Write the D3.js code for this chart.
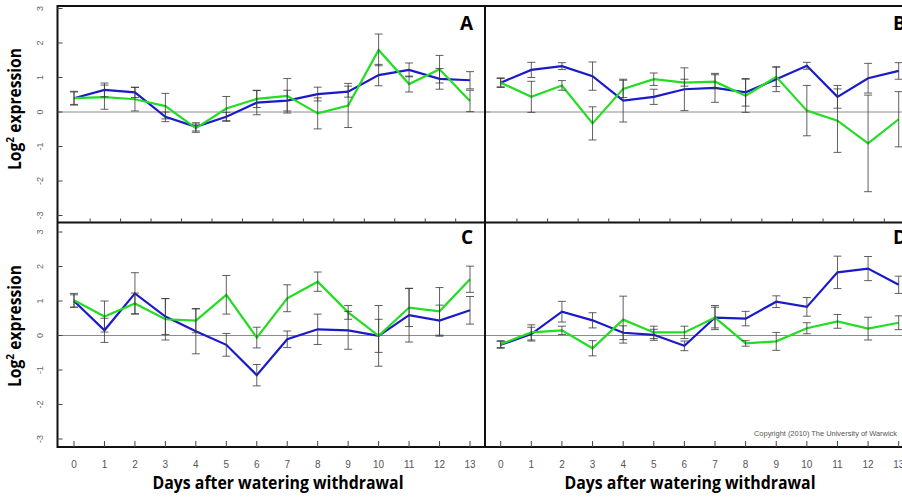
<!DOCTYPE html>
<html>
<head>
<meta charset="utf-8">
<script src="https://cdn.jsdelivr.net/npm/d3@7"></script>
<style>
  body { margin: 0; background: #fff; }
  svg { display: block; }
</style>
</head>
<body>
<div id="chart"></div>
<script>
// days after watering withdrawal
const days = [0, 1, 2, 3, 4, 5, 6, 7, 8, 9, 10, 11, 12, 13];
const yTicks = [-3, -2, -1, 0, 1, 2, 3];

// panel A
const aGreen    = [0.40, 0.43, 0.37, 0.17, -0.47, 0.10, 0.38, 0.47, -0.04, 0.19, 1.80, 0.81, 1.24, 0.32];
const aGreenErr = [0.18, 0.35, 0.34, 0.37, 0.12, 0.35, 0.25, 0.50, 0.45, 0.64, 0.46, 0.23, 0.40, 0.31];
const aBlue     = [0.40, 0.64, 0.57, -0.14, -0.43, -0.14, 0.27, 0.33, 0.52, 0.59, 1.07, 1.22, 0.96, 0.92];
const aBlueErr  = [0.20, 0.20, 0.15, 0.14, 0.12, 0.13, 0.35, 0.30, 0.20, 0.16, 0.31, 0.20, 0.30, 0.25];

// panel B
const bGreen    = [0.85, 0.44, 0.77, -0.33, 0.67, 0.95, 0.85, 0.88, 0.47, 1.02, 0.04, -0.25, -0.91, -0.21];
const bGreenErr = [0.14, 0.45, 0.14, 0.48, 0.25, 0.18, 0.10, 0.20, 0.48, 0.28, 0.73, 0.92, 1.40, 0.80];
const bBlue     = [0.85, 1.22, 1.33, 1.04, 0.33, 0.44, 0.66, 0.70, 0.57, 0.95, 1.34, 0.44, 0.98, 1.19];
const bBlueErr  = [0.12, 0.22, 0.10, 0.41, 0.62, 0.22, 0.62, 0.42, 0.40, 0.36, 0.10, 0.33, 0.43, 0.24];

// panel C
const cGreen    = [1.02, 0.55, 0.93, 0.47, 0.43, 1.18, -0.06, 1.08, 1.56, 0.67, -0.01, 0.81, 0.70, 1.63];
const cGreenErr = [0.20, 0.45, 0.30, 0.60, 0.35, 0.56, 0.30, 0.39, 0.28, 0.20, 0.88, 0.55, 0.69, 0.38];
const cBlue     = [1.00, 0.15, 1.22, 0.55, 0.12, -0.27, -1.15, -0.11, 0.18, 0.15, -0.01, 0.59, 0.43, 0.73];
const cBlueErr  = [0.18, 0.35, 0.60, 0.52, 0.65, 0.33, 0.31, 0.24, 0.44, 0.55, 0.48, 0.78, 0.45, 0.40];

// panel D
const dGreen    = [-0.25, 0.09, 0.15, -0.37, 0.46, 0.09, 0.09, 0.52, -0.23, -0.17, 0.21, 0.41, 0.20, 0.37];
const dGreenErr = [0.10, 0.22, 0.12, 0.22, 0.68, 0.18, 0.18, 0.30, 0.08, 0.26, 0.16, 0.20, 0.33, 0.20];
const dBlue     = [-0.27, 0.04, 0.69, 0.44, 0.08, 0.02, -0.30, 0.52, 0.49, 0.98, 0.83, 1.83, 1.94, 1.47];
const dBlueErr  = [0.10, 0.20, 0.30, 0.22, 0.20, 0.16, 0.14, 0.35, 0.21, 0.17, 0.27, 0.47, 0.35, 0.25];

const greenCol = "rgb(34,221,34)";
const blueCol = "rgb(26,26,204)";
const barCol = "#3a3a3a";

let width = 902, height = 498;
let leftX = 57.5, midX = 485, rightX = 914;
let topY = 6, midY = 222.5, botY = 447;

let svg = d3.select("#chart").append("svg")
    .attr("width", width)
    .attr("height", height)
    .style("font-family", "'Open Sans', 'DejaVu Sans', sans-serif");

svg.append("rect").attr("width", width).attr("height", height).attr("fill", "#fff");

// y scales: one for each row
let yTop = d3.scaleLinear().domain([-3, 3]).range([215.5, 8.5]);
let yBot = d3.scaleLinear().domain([-3, 3]).range([439, 232]);
// x scales: one for each column
let xLeft = d3.scaleLinear().domain([0, 13]).range([74, 470]);
let xRight = d3.scaleLinear().domain([0, 13]).range([500.7, 898.7]);

let panels = [
    {label: "A", x: xLeft,  y: yTop, x0: leftX, x1: midX,   green: aGreen, greenErr: aGreenErr, blue: aBlue, blueErr: aBlueErr},
    {label: "B", x: xRight, y: yTop, x0: midX,  x1: rightX, green: bGreen, greenErr: bGreenErr, blue: bBlue, blueErr: bBlueErr},
    {label: "C", x: xLeft,  y: yBot, x0: leftX, x1: midX,   green: cGreen, greenErr: cGreenErr, blue: cBlue, blueErr: cBlueErr},
    {label: "D", x: xRight, y: yBot, x0: midX,  x1: rightX, green: dGreen, greenErr: dGreenErr, blue: dBlue, blueErr: dBlueErr}
];

function drawPanel(p) {
    let g = svg.append("g").attr("class", "panel-" + p.label);

    // zero line
    g.append("line")
        .attr("x1", p.x0).attr("x2", p.x1 + 5)
        .attr("y1", p.y(0)).attr("y2", p.y(0))
        .attr("stroke", "#8c8c8c").attr("stroke-width", 1);

    let series = [
        {vals: p.blue, err: p.blueErr, col: blueCol},
        {vals: p.green, err: p.greenErr, col: greenCol}
    ];

    series.forEach(s => {
        let line = d3.line()
            .x((d, i) => p.x(days[i]))
            .y(d => p.y(d));
        g.append("path")
            .datum(s.vals)
            .attr("d", line)
            .attr("fill", "none")
            .attr("stroke", s.col)
            .attr("stroke-width", 2.2)
            .attr("stroke-linejoin", "miter");
    });

    // error bars drawn over the lines
    series.forEach(s => {
        let bars = g.append("g").selectAll("g")
            .data(s.vals)
            .enter()
            .append("g")
            .attr("stroke", barCol)
            .attr("stroke-width", 1)
            .attr("stroke-opacity", 0.8);
        bars.append("line")
            .attr("x1", (d, i) => p.x(days[i])).attr("x2", (d, i) => p.x(days[i]))
            .attr("y1", (d, i) => p.y(d + s.err[i])).attr("y2", (d, i) => p.y(d - s.err[i]));
        bars.append("line")
            .attr("x1", (d, i) => p.x(days[i]) - 4).attr("x2", (d, i) => p.x(days[i]) + 4)
            .attr("y1", (d, i) => p.y(d + s.err[i])).attr("y2", (d, i) => p.y(d + s.err[i]));
        bars.append("line")
            .attr("x1", (d, i) => p.x(days[i]) - 4).attr("x2", (d, i) => p.x(days[i]) + 4)
            .attr("y1", (d, i) => p.y(d - s.err[i])).attr("y2", (d, i) => p.y(d - s.err[i]));
    });

    // panel letter
    let ly = p.y === yTop ? 30 : 244;
    let t = g.append("text")
        .attr("y", ly)
        .attr("font-size", 19)
        .attr("font-weight", "bold")
        .attr("fill", "#000")
        .text(p.label);
    if (p.x === xLeft) t.attr("x", 473).attr("text-anchor", "end");
    else t.attr("x", 893);
}

panels.forEach(drawPanel);

// frame
let frame = svg.append("g").attr("stroke", "#111").attr("stroke-width", 2).attr("fill", "none");
frame.append("line").attr("x1", leftX).attr("x2", width).attr("y1", topY).attr("y2", topY);
frame.append("line").attr("x1", leftX).attr("x2", width).attr("y1", midY).attr("y2", midY);
frame.append("line").attr("x1", leftX).attr("x2", width).attr("y1", botY).attr("y2", botY);
frame.append("line").attr("x1", leftX).attr("x2", leftX).attr("y1", topY - 1).attr("y2", botY + 1);
frame.append("line").attr("x1", midX).attr("x2", midX).attr("y1", topY - 1).attr("y2", botY + 1);

// ticks of the top row's hidden x axis (sit half a day off)
[xLeft, xRight].forEach(xs => {
    svg.append("g").selectAll("line")
        .data(days.slice(0, 13))
        .enter().append("line")
        .attr("x1", d => xs(d + 0.53)).attr("x2", d => xs(d + 0.53))
        .attr("y1", midY - 4).attr("y2", midY)
        .attr("stroke", "#444").attr("stroke-width", 1);
});

// bottom x axes
[xLeft, xRight].forEach(xs => {
    let ax = svg.append("g");
    ax.selectAll("line")
        .data(days).enter().append("line")
        .attr("x1", d => xs(d)).attr("x2", d => xs(d))
        .attr("y1", botY - 6).attr("y2", botY)
        .attr("stroke", "#444").attr("stroke-width", 1);
    ax.selectAll("text")
        .data(days).enter().append("text")
        .attr("x", d => xs(d))
        .attr("y", 468)
        .attr("text-anchor", "middle")
        .attr("font-size", 10)
        .attr("fill", "#555")
        .style("font-family", "'Liberation Sans', Arial, sans-serif")
        .text(d => d);
});

// y axes
[yTop, yBot].forEach(ys => {
    let ax = svg.append("g");
    ax.selectAll("line")
        .data(yTicks).enter().append("line")
        .attr("x1", leftX).attr("x2", leftX + 5)
        .attr("y1", d => ys(d)).attr("y2", d => ys(d))
        .attr("stroke", "#444").attr("stroke-width", 1);
    ax.selectAll("text")
        .data(yTicks).enter().append("text")
        .attr("transform", d => `translate(43,${ys(d)}) rotate(-90)`)
        .attr("text-anchor", "middle")
        .attr("font-size", 9)
        .attr("fill", "#666")
        .style("font-family", "'Liberation Sans', Arial, sans-serif")
        .text(d => d);
});

// y titles
[[109, "top"], [326, "bottom"]].forEach(([cy, k]) => {
    let t = svg.append("text")
        .attr("transform", `translate(21,${cy}) rotate(-90)`)
        .attr("text-anchor", "middle")
        .attr("font-size", 17)
        .attr("font-weight", "bold")
        .attr("fill", "#000")
        .attr("textLength", 122)
        .attr("lengthAdjust", "spacingAndGlyphs");
    t.append("tspan").text("Log");
    t.append("tspan").attr("font-size", 11).attr("dy", -7).text("2");
    t.append("tspan").attr("dy", 7).text(" expression");
});

// x titles
[278, 690].forEach(cx => {
    svg.append("text")
        .attr("x", cx)
        .attr("y", 489)
        .attr("text-anchor", "middle")
        .attr("font-size", 18)
        .attr("font-weight", "bold")
        .attr("fill", "#000")
        .attr("textLength", 251)
        .attr("lengthAdjust", "spacingAndGlyphs")
        .text("Days after watering withdrawal");
});

// copyright
svg.append("text")
    .attr("x", 754)
    .attr("y", 436)
    .attr("font-size", 8)
    .attr("fill", "#555")
    .attr("textLength", 143)
    .attr("lengthAdjust", "spacingAndGlyphs")
    .style("font-family", "'Liberation Sans', Arial, sans-serif")
    .text("Copyright (2010) The University of Warwick");
</script>
</body>
</html>
